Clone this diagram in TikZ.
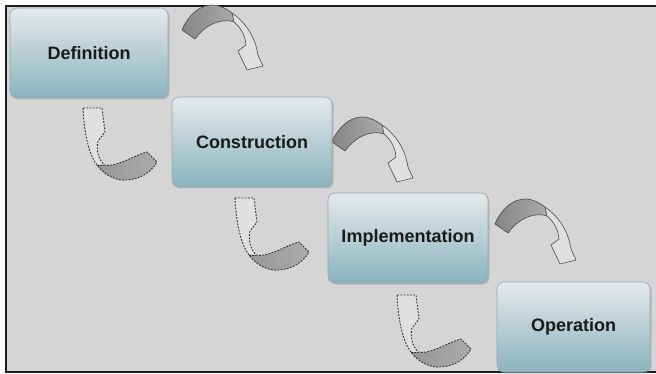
\documentclass[tikz,border=0pt]{standalone}
\usepackage{fontspec}
\setmainfont{Liberation Sans}
\usetikzlibrary{shadows}
\definecolor{bg}{HTML}{D5D5D5}
\definecolor{frameblack}{HTML}{1E1E1E}
\definecolor{boxtop}{HTML}{E6E9EA}
\definecolor{boxmid}{HTML}{CBD9DD}
\definecolor{boxbot}{HTML}{8AB3BE}
\definecolor{boxline}{HTML}{93AAB2}
\definecolor{txt}{HTML}{1A1A1A}
\definecolor{arrline}{HTML}{4A4A4A}
\definecolor{dashline}{HTML}{303030}
\definecolor{taildark}{HTML}{858585}
\definecolor{taillight}{HTML}{ABABAB}
\definecolor{bandfill}{HTML}{E0E0E0}
\tikzset{
  frame/.style={draw=frameblack, line width=1.6pt},
  stage/.style={rounded corners=7pt, draw=boxline, line width=0.6pt,
    top color=boxtop, middle color=boxmid, bottom color=boxbot,
    minimum height=90pt, inner sep=0pt,
    font=\fontsize{18}{20}\selectfont\bfseries, text=txt,
    drop shadow={shadow xshift=1.5pt, shadow yshift=-1.5pt, opacity=0.35}},
  fwdarrow/.pic={
    % light back face (band and head)
    \fill[bandfill] (50,-17) .. controls (62,-9) and (72,5) .. (75,20) -- (76,25) -- (81,36) -- (65,40)
      -- (56,21) -- (64,15) .. controls (63,4) and (58,-3) .. (52,-8) -- cycle;
    % grey front face (tail)
    \shade[left color=taildark, right color=taillight] (0,0) .. controls (6,-15) and (18,-25) .. (30,-25)
      .. controls (38,-25) and (45,-21) .. (50,-17) -- (52,-8)
      .. controls (44,-11) and (27,-10) .. (13,9) -- cycle;
    % outline
    \draw[draw=arrline, line width=0.6pt, line join=round] (0,0) .. controls (6,-15) and (18,-25) .. (30,-25)
      .. controls (38,-25) and (45,-21) .. (50,-17) .. controls (62,-9) and (72,5) .. (75,20)
      -- (76,25) -- (81,36) -- (65,40) -- (56,21) -- (64,15)
      .. controls (63,4) and (58,-3) .. (52,-8)
      .. controls (44,-11) and (27,-10) .. (13,9) -- cycle;
    \draw[draw=arrline, line width=0.6pt] (50,-17) -- (52,-8);
  },
  backarrow/.pic={
    % light band and head
    \fill[bandfill] (0,0) .. controls (1,22) and (5,45) .. (14,57) -- (21,57)
      .. controls (15,50) and (13,42) .. (15,33) -- (22,24) -- (19,0) -- cycle;
    % grey tail
    \shade[left color=taillight!88!black, right color=taillight] (14,57) .. controls (22,68) and (34,73) .. (44,72)
      .. controls (58,71) and (68,64) .. (74,54) -- (64,44)
      .. controls (52,47) and (32,60) .. (21,57) -- cycle;
    % dashed outline
    \draw[draw=dashline, line width=0.9pt, dash pattern=on 1.8pt off 1.4pt, line join=round]
      (0,0) .. controls (1,22) and (5,45) .. (14,57)
      .. controls (22,68) and (34,73) .. (44,72)
      .. controls (58,71) and (68,64) .. (74,54) -- (64,44)
      .. controls (52,47) and (32,60) .. (21,57)
      .. controls (15,50) and (13,42) .. (15,33) -- (22,24) -- (19,0) -- cycle;
    \draw[draw=dashline, line width=0.9pt, dash pattern=on 1.8pt off 1.4pt] (14,57) -- (21,57);
  }
}
\begin{document}
\begin{tikzpicture}[x=1pt, y=-1pt]
  \useasboundingbox (0,0) rectangle (656,374);
  \fill[white] (0,0) rectangle (656,374);
  \fill[bg] (6,6) rectangle (656,372);
  \draw[frame] (656,6) -- (6,6) -- (6,372) -- (656,372);

  % curved arrows
  \pic at (182,30) {fwdarrow};
  \pic at (332,142) {fwdarrow};
  \pic at (495,224) {fwdarrow};
  \pic at (83,108) {backarrow};
  \pic at (235,198) {backarrow};
  \pic at (397,295) {backarrow};

  % stages
  \node[stage, minimum width=158pt] (def) at (89,53) {Definition};
  \node[stage, minimum width=160pt] (con) at (252,142) {Construction};
  \node[stage, minimum width=160pt] (imp) at (408,238) {Implementation};
  \node[stage, minimum width=153pt] (op) at (573.5,327) {Operation};
\end{tikzpicture}
\end{document}
